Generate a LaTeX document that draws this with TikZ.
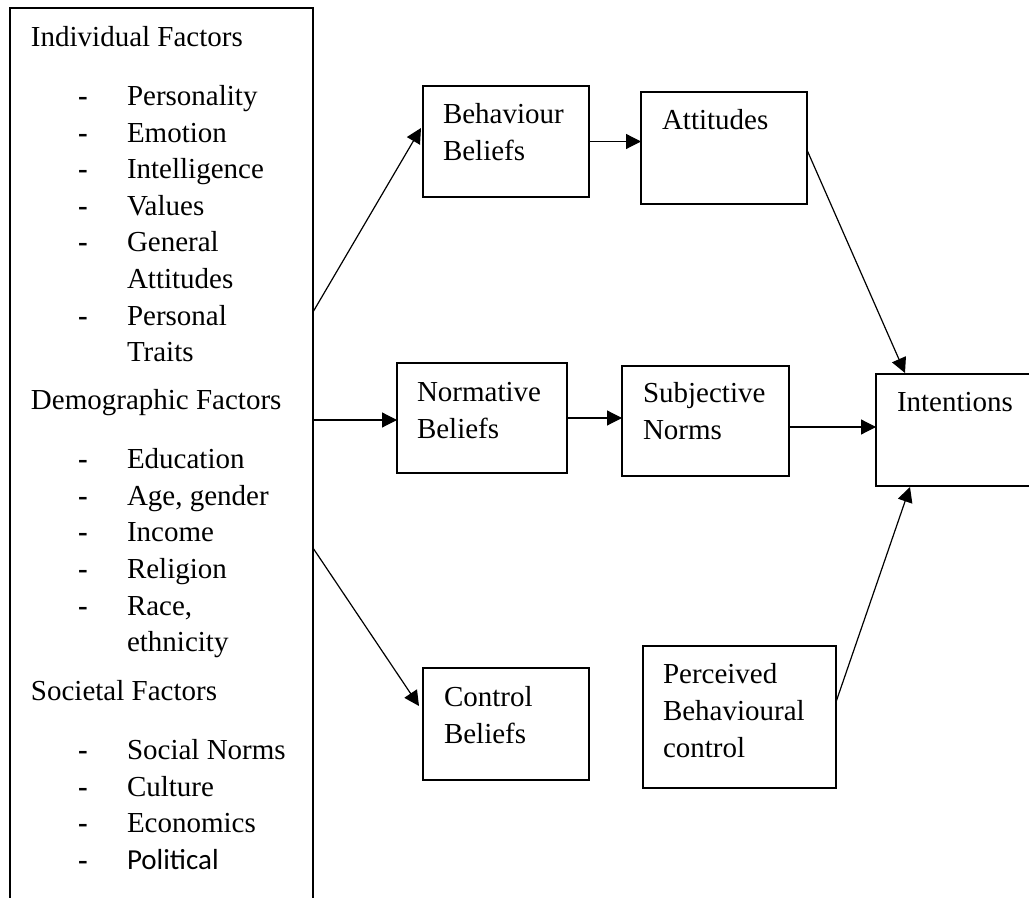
\documentclass[tikz,border=0pt]{standalone}
\usepackage{fontspec}
\setmainfont{Liberation Serif}
\newfontfamily\calib{Carlito}
\usetikzlibrary{arrows.meta,fit,calc}
\tikzset{
  box/.style={draw=black, line width=1pt, inner sep=0pt, outer sep=0pt, rectangle},
  txt/.style={inner sep=0pt, outer sep=0pt, anchor=base west, font=\fontsize{14.5}{17}\selectfont},
  hyph/.style={inner sep=0pt, outer sep=0pt, anchor=base, font=\fontsize{14.5}{17}\selectfont\bfseries},
  conn/.style={draw=black, line width=0.6pt, -{Triangle[length=7.5pt,width=7.5pt]}}
}
\begin{document}
\begin{tikzpicture}[x=0.5pt,y=-0.5pt]
\clip (0,0) rectangle (1029,898);
\fill[white] (0,0) rectangle (1029,898);
% left box
\node[box, fit={(10,8) (313,930)}] (lf) {};
\node[txt] (h1) at (31,47) {Individual Factors};
\node[hyph] (d1) at (83,106) {-}; \node[txt] (t1) at (127,106) {Personality};
\node[hyph] (d2) at (83,143) {-}; \node[txt] (t2) at (127,143) {Emotion};
\node[hyph] (d3) at (83,179) {-}; \node[txt] (t3) at (127,179) {Intelligence};
\node[hyph] (d4) at (83,216) {-}; \node[txt] (t4) at (127,216) {Values};
\node[hyph] (d5) at (83,252) {-}; \node[txt] (t5) at (127,252) {General};
\node[txt] (t5b) at (127,289) {Attitudes};
\node[hyph] (d6) at (83,326) {-}; \node[txt] (t6) at (127,326) {Personal};
\node[txt] (t6b) at (127,362) {Traits};
\node[txt] (h2) at (31,410) {Demographic Factors};
\node[hyph] (d7) at (83,469) {-}; \node[txt] (t7) at (127,469) {Education};
\node[hyph] (d8) at (83,506) {-}; \node[txt] (t8) at (127,506) {Age, gender};
\node[hyph] (d9) at (83,542) {-}; \node[txt] (t9) at (127,542) {Income};
\node[hyph] (d10) at (83,579) {-}; \node[txt] (t10) at (127,579) {Religion};
\node[hyph] (d11) at (83,616) {-}; \node[txt] (t11) at (127,616) {Race,};
\node[txt] (t11b) at (127,652) {ethnicity};
\node[txt] (h3) at (31,700) {Societal Factors};
\node[hyph] (d12) at (83,759) {-}; \node[txt] (t12) at (127,759) {Social Norms};
\node[hyph] (d13) at (83,796) {-}; \node[txt] (t13) at (127,796) {Culture};
\node[hyph] (d14) at (83,832) {-}; \node[txt] (t14) at (127,832) {Economics};
\node[hyph] (d15) at (83,869) {-}; \node[txt] (t15) at (127,869) {\calib Political};
% right boxes
\node[box, fit={(423,86) (589,197)}] (bb) {};
\node[txt] (bb1) at (443,124) {Behaviour};
\node[txt] (bb2) at (443,161) {Beliefs};
\node[box, fit={(641,92) (807,204)}] (att) {};
\node[txt] (att1) at (662,130) {Attitudes};
\node[box, fit={(397,363) (567,473)}] (nb) {};
\node[txt] (nb1) at (417,402) {Normative};
\node[txt] (nb2) at (417,439) {Beliefs};
\node[box, fit={(622,366) (789,476)}] (sn) {};
\node[txt] (sn1) at (643,403) {Subjective};
\node[txt] (sn2) at (643,440) {Norms};
\node[box, fit={(876,374) (1040,486)}] (int) {};
\node[txt] (int1) at (897,412) {Intentions};
\node[box, fit={(423,668) (589,780)}] (cb) {};
\node[txt] (cb1) at (444,706) {Control};
\node[txt] (cb2) at (444,743) {Beliefs};
\node[box, fit={(643,646) (836,788)}] (pbc) {};
\node[txt] (pbc1) at (663,683) {Perceived};
\node[txt] (pbc2) at (663,720) {Behavioural};
\node[txt] (pbc3) at (663,757) {control};
% connector points
\coordinate (l1) at (313,312);
\coordinate (l2) at (313,420);
\coordinate (l3) at (313,548);
\coordinate (bbin) at (421,128);
\coordinate (cbin) at (419,706);
\coordinate (attout) at (807,150);
\coordinate (intin1) at (905,373);
\coordinate (pbcout) at (836,702);
\coordinate (intin2) at (910,487);
\coordinate (y427) at (0,427);
% connectors
\draw[conn] (l1) -- (bbin);
\draw[conn] (l2) -- (l2 -| nb.west);
\draw[conn] (l3) -- (cbin);
\draw[conn] (bb.east) -- (bb.east -| att.west);
\draw[conn] (nb.east) -- (nb.east -| sn.west);
\draw[conn] (sn.east |- y427) -- (int.west |- y427);
\draw[conn] (attout) -- (intin1);
\draw[conn] (pbcout) -- (intin2);
\end{tikzpicture}
\end{document}
